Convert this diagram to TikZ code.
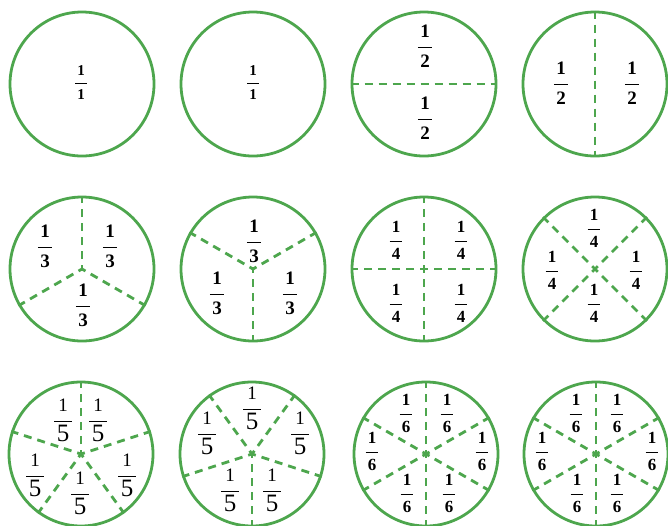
\documentclass[tikz,border=0pt]{standalone}
\usepackage{fontspec}
\setmainfont{Liberation Serif}
\usepackage{xcolor}
\usepackage{tikz}
\usetikzlibrary{positioning}

\definecolor{piegreen}{RGB}{77,166,77}
\setlength{\arrayrulewidth}{1.1pt}
% stacked fraction: numerator, bar, denominator
\newcommand{\pfrac}[2]{\begin{tabular}{@{\hspace{0.12em}}c@{\hspace{0.12em}}}\rule[-0.47em]{0pt}{0pt}#1\\\hline\rule{0pt}{1.05em}#2\end{tabular}}

\begin{document}
\begin{tikzpicture}[
        x=1pt, y=-1pt,
        disc/.style={circle, draw=piegreen, line width=2.8pt, minimum size=144pt, inner sep=0pt},
        cut/.style={draw=piegreen, line width=2.8pt, dash pattern=on 8pt off 6pt, dash phase=4pt},
        halfcut/.style={draw=piegreen, line width=2.8pt, dash pattern=on 8pt off 6pt},
        part/.style={inner sep=0pt, font=\fontsize{19}{23}\selectfont\bfseries},
        smallpart/.style={inner sep=0pt, font=\fontsize{15}{18}\selectfont\bfseries},
        quarterpart/.style={inner sep=0pt, font=\fontsize{17}{20}\selectfont\bfseries},
        fifthpart/.style={inner sep=0pt, font=\fontsize{19}{23}\selectfont},
    ]
    \useasboundingbox (0,0) rectangle (668,525);
    \clip (0,0) rectangle (668,525);

    % === ROW 1: wholes and halves ===
    \node[disc] (c1) at (82,84) {};
    \node[disc] (c2) at (253,84) {};
    \node[disc] (c3) at (424,84) {};
    \node[disc] (c4) at (595,84) {};

    % === ROW 2: thirds and quarters ===
    \node[disc] (c5) at (82,269) {};
    \node[disc] (c6) at (253,269) {};
    \node[disc] (c7) at (424,269) {};
    \node[disc] (c8) at (595,269) {};

    % === ROW 3: fifths and sixths ===
    \node[disc] (c9) at (81,454) {};
    \node[disc] (c10) at (252,454) {};
    \node[disc] (c11) at (426,454) {};
    \node[disc] (c12) at (596,454) {};

    % Halves: diameters
    \draw[halfcut] (c3.180) -- (c3.0);
    \draw[halfcut] (c4.90) -- (c4.270);

    % Spokes from the centre
    \foreach \c/\angles in {c5/{90,210,330}, c6/{30,150,270}, c7/{0,90,180,270}, c8/{45,135,225,315},
                            c9/{18,90,162,234,306}, c10/{54,126,198,270,342},
                            c11/{30,90,150,210,270,330}, c12/{30,90,150,210,270,330}}
        \foreach \a in \angles
            \draw[cut] (\c.center) -- (\c.\a);

    % Labels: wholes
    \node[smallpart] (f1) at (81,84) {\pfrac{1}{1}};
    \node[smallpart] (f2) at (253,84) {\pfrac{1}{1}};

    % Labels: halves
    \node[part] (f3a) at (425,48) {\pfrac{1}{2}};
    \node[part] (f3b) at (425,120) {\pfrac{1}{2}};
    \node[part] (f4a) at (561,85) {\pfrac{1}{2}};
    \node[part] (f4b) at (632,85) {\pfrac{1}{2}};

    % Labels: thirds
    \node[part] (f5a) at (45,248) {\pfrac{1}{3}};
    \node[part] (f5b) at (110,248) {\pfrac{1}{3}};
    \node[part] (f5c) at (83,307) {\pfrac{1}{3}};
    \node[part] (f6a) at (254,243) {\pfrac{1}{3}};
    \node[part] (f6b) at (217,295) {\pfrac{1}{3}};
    \node[part] (f6c) at (290,295) {\pfrac{1}{3}};

    % Labels: quarters
    \node[quarterpart] (f7a) at (396,242) {\pfrac{1}{4}};
    \node[quarterpart] (f7b) at (461,242) {\pfrac{1}{4}};
    \node[quarterpart] (f7c) at (396,305) {\pfrac{1}{4}};
    \node[quarterpart] (f7d) at (461,305) {\pfrac{1}{4}};
    \node[quarterpart] (f8a) at (594,230) {\pfrac{1}{4}};
    \node[quarterpart] (f8b) at (552,272) {\pfrac{1}{4}};
    \node[quarterpart] (f8c) at (636,272) {\pfrac{1}{4}};
    \node[quarterpart] (f8d) at (594,305) {\pfrac{1}{4}};

    % Labels: fifths
    \foreach \n/\x/\y in {f9a/63/422, f9b/98/422, f9c/35/477, f9d/127/477, f9e/80/495,
                          f10a/252/410, f10b/207/435, f10c/300/435, f10d/230/492, f10e/272/492}
        \node[fifthpart] (\n) at (\x,\y) {\pfrac{1}{\fontsize{25}{25}\selectfont 5}};

    % Labels: sixths
    \foreach \n/\x/\y in {f11a/406/415, f11b/447/415, f11c/372/453, f11d/482/453, f11e/407/495, f11f/449/495,
                          f12a/576/415, f12b/617/415, f12c/542/453, f12d/652/453, f12e/577/495, f12f/617/495}
        \node[quarterpart] (\n) at (\x,\y) {\pfrac{1}{6}};

\end{tikzpicture}
\end{document}
